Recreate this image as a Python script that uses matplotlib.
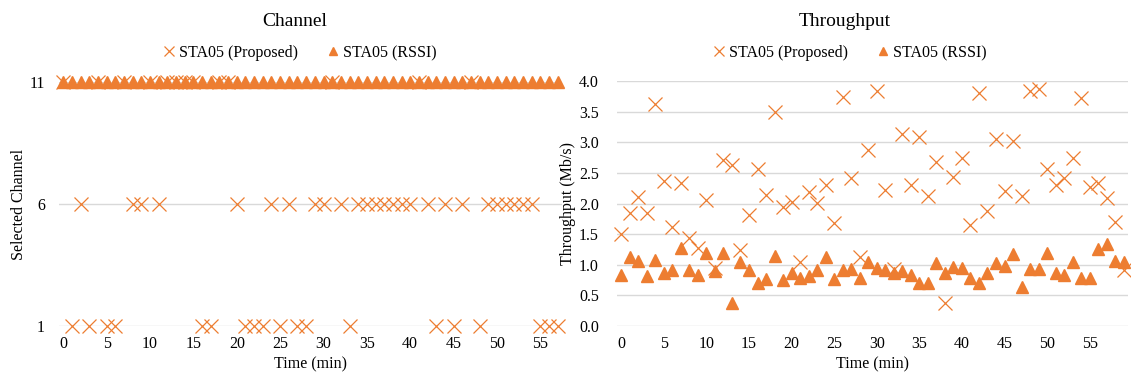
import matplotlib
matplotlib.use("Agg")
import matplotlib.pyplot as plt
from matplotlib.ticker import FormatStrFormatter

# Datos del canal (0..57 min)
t_canal = list(range(58))
canal_propuesto = [11, 1, 6, 1, 11, 1, 1, 11, 6, 6, 11, 6, 11, 11, 11, 11, 1, 1, 11, 11,
                   6, 1, 1, 1, 6, 1, 6, 1, 1, 6, 6, 11, 6, 1, 6, 6, 6, 6, 6, 6,
                   6, 11, 6, 1, 6, 1, 6, 11, 1, 6, 6, 6, 6, 6, 6, 1, 1, 1]
canal_rssi = [11] * 58

# Datos de throughput (0..59 min)
t_thr = list(range(60))
thr_propuesto = [1.50, 1.84, 2.11, 1.84, 3.62, 2.36, 1.61, 2.33, 1.43, 1.27,
                 2.05, 0.94, 2.71, 2.63, 1.24, 1.81, 2.56, 2.14, 3.50, 1.94,
                 2.02, 1.05, 2.18, 2.01, 2.30, 1.68, 3.74, 2.41, 1.13, 2.87,
                 3.84, 2.22, 0.93, 3.13, 2.30, 3.09, 2.12, 2.68, 0.38, 2.43,
                 2.75, 1.65, 3.81, 1.88, 3.05, 2.21, 3.02, 2.13, 3.83, 3.87,
                 2.56, 2.30, 2.41, 2.75, 3.73, 2.27, 2.34, 2.09, 1.69, 0.91]
thr_rssi = [0.83, 1.12, 1.06, 0.81, 1.07, 0.86, 0.91, 1.27, 0.91, 0.83,
            1.20, 0.89, 1.19, 0.38, 1.05, 0.91, 0.70, 0.76, 1.14, 0.75,
            0.86, 0.78, 0.82, 0.91, 1.12, 0.77, 0.91, 0.93, 0.79, 1.05,
            0.94, 0.91, 0.86, 0.89, 0.83, 0.71, 0.70, 1.03, 0.86, 0.97,
            0.94, 0.79, 0.71, 0.86, 1.03, 0.98, 1.18, 0.64, 0.93, 0.93,
            1.20, 0.87, 0.83, 1.04, 0.79, 0.79, 1.25, 1.34, 1.06, 1.05]

naranja = "#ED7D31"
gris = "#D9D9D9"
plt.rcParams["font.family"] = ["Liberation Serif", "DejaVu Serif"]
plt.rcParams["font.size"] = 11.5

fig = plt.figure(figsize=(11.31, 3.78), dpi=100)
ax1 = fig.add_axes([59 / 1131, 52 / 378, 503 / 1131, 244 / 378])
ax2 = fig.add_axes([617 / 1131, 52 / 378, 511 / 1131, 245 / 378])


def estilo(ax):
    for s in ax.spines.values():
        s.set_visible(False)
    ax.tick_params(length=0)
    ax.tick_params(axis="x", pad=7)
    ax.grid(axis="y", color=gris, linewidth=1.0)
    ax.set_axisbelow(True)
    ax.set_xticks(range(0, 56, 5))


# Panel izquierdo: canal
ax1.plot(t_canal, canal_propuesto, "x", color=naranja, markersize=10.5,
         markeredgewidth=0.9, clip_on=False, label="STA05 (Proposed)")
ax1.plot(t_canal, canal_rssi, "^", color=naranja, markersize=9,
         clip_on=False, label="STA05 (RSSI)")
estilo(ax1)
ax1.set_xlim(-0.5, 57.5)
ax1.set_ylim(1, 11)
ax1.set_yticks([1, 6, 11])
ax1.tick_params(axis="y", pad=10)
ax1.set_xlabel("Time (min)")
ax1.set_ylabel("Selected Channel")
ax1.xaxis.set_label_coords(0.5, -0.125)
ax1.yaxis.set_label_coords(-0.064, 0.5)
fig.text(295 / 1131, 1 - 21 / 378, "Channel", ha="center", va="center", fontsize=14)
ax1.legend(loc="center", bbox_to_anchor=(298 / 1131, 1 - 53 / 378),
           bbox_transform=fig.transFigure, ncol=2, frameon=False,
           markerscale=0.7, handletextpad=0.0, columnspacing=1.6, handlelength=1.2)

# Panel derecho: throughput
ax2.plot(t_thr, thr_propuesto, "x", color=naranja, markersize=10.5,
         markeredgewidth=0.9, clip_on=False, label="STA05 (Proposed)")
ax2.plot(t_thr, thr_rssi, "^", color=naranja, markersize=9,
         clip_on=False, label="STA05 (RSSI)")
estilo(ax2)
ax2.set_xlim(-0.5, 59.5)
ax2.set_ylim(0, 4)
ax2.set_yticks([i * 0.5 for i in range(9)])
ax2.yaxis.set_major_formatter(FormatStrFormatter("%.1f"))
ax2.tick_params(axis="y", pad=13)
ax2.set_xlabel("Time (min)")
ax2.set_ylabel("Throughput (Mb/s)")
ax2.xaxis.set_label_coords(0.5, -0.125)
ax2.yaxis.set_label_coords(-0.081, 0.5)
fig.text(845 / 1131, 1 - 21 / 378, "Throughput", ha="center", va="center", fontsize=14)
ax2.legend(loc="center", bbox_to_anchor=(848 / 1131, 1 - 53 / 378),
           bbox_transform=fig.transFigure, ncol=2, frameon=False,
           markerscale=0.7, handletextpad=0.0, columnspacing=1.6, handlelength=1.2)

fig.savefig("out.png", dpi=100)
